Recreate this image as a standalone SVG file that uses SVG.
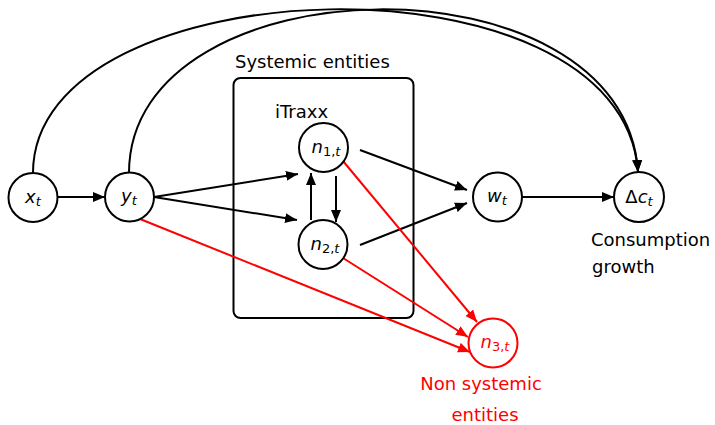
<svg xmlns="http://www.w3.org/2000/svg" width="715" height="425" viewBox="0 0 715 425">
<style>
  .node circle { fill: #fff; stroke: #000; stroke-width: 2; }
  .red circle { stroke: #f00; }
  text { font-family: "DejaVu Sans", "Liberation Sans", sans-serif; font-size: 18px; fill: #000; }
  .math { font-style: italic; }
  .sub { font-size: 13px; }
  .redt { fill: #f00; }
  .edge { fill: none; stroke: #000; stroke-width: 2; }
  .redge { fill: none; stroke: #f00; stroke-width: 2; }
</style>
<defs>
  <marker id="ah" markerUnits="userSpaceOnUse" markerWidth="13" markerHeight="11" refX="12" refY="5.5" orient="auto">
    <path d="M0,0.5 L12,5.5 L0,10.5 z" fill="#000"/>
  </marker>
  <marker id="ahr" markerUnits="userSpaceOnUse" markerWidth="13" markerHeight="11" refX="12" refY="5.5" orient="auto">
    <path d="M0,0.5 L12,5.5 L0,10.5 z" fill="#f00"/>
  </marker>
</defs>

<g id="box">
  <rect x="233.5" y="78" width="180" height="240" rx="7" fill="none" stroke="#000" stroke-width="2"/>
  <text x="235" y="68">Systemic entities</text>
  <text x="275" y="118">iTraxx</text>
</g>

<g id="connectors">
  <path class="edge" d="M33,173 C33,-35 622,-55 638,172" marker-end="url(#ah)"/>
  <path class="edge" d="M129,173 C129,-40 624,-50 638,172" marker-end="url(#ah)"/>
  <path class="edge" d="M57,197 L105,197" marker-end="url(#ah)"/>
  <path class="edge" d="M154,197 L298,174" marker-end="url(#ah)"/>
  <path class="edge" d="M154,197 L297,220" marker-end="url(#ah)"/>
  <path class="edge" d="M311,220 L311,173" marker-end="url(#ah)"/>
  <path class="edge" d="M336,176 L336,222" marker-end="url(#ah)"/>
  <path class="edge" d="M360,150 L467,190" marker-end="url(#ah)"/>
  <path class="edge" d="M360,245 L467,203" marker-end="url(#ah)"/>
  <path class="edge" d="M522,197 L614,197" marker-end="url(#ah)"/>
  <path class="redge" d="M140,219 L470,352" marker-end="url(#ahr)"/>
  <path class="redge" d="M343,161 L477,322" marker-end="url(#ahr)"/>
  <path class="redge" d="M343,258 L468,337" marker-end="url(#ahr)"/>
</g>

<g id="x_t" class="node">
  <circle cx="33" cy="197.5" r="24.5"/>
  <text x="33" y="203" text-anchor="middle" class="math">x<tspan class="sub" dy="3">t</tspan></text>
</g>
<g id="y_t" class="node">
  <circle cx="129.5" cy="197" r="24.5"/>
  <text x="129" y="202" text-anchor="middle" class="math">y<tspan class="sub" dy="3">t</tspan></text>
</g>
<g id="n1" class="node">
  <circle cx="323.5" cy="147.5" r="24.5"/>
  <text x="326" y="153" text-anchor="middle" class="math">n<tspan class="sub" dy="3" font-style="normal">1,</tspan><tspan class="sub">t</tspan></text>
</g>
<g id="n2" class="node">
  <circle cx="323" cy="244.5" r="24.5"/>
  <text x="325" y="250" text-anchor="middle" class="math">n<tspan class="sub" dy="3" font-style="normal">2,</tspan><tspan class="sub">t</tspan></text>
</g>
<g id="w_t" class="node">
  <circle cx="497.5" cy="197" r="24.5"/>
  <text x="497" y="202" text-anchor="middle" class="math">w<tspan class="sub" dy="3">t</tspan></text>
</g>
<g id="dc_t" class="node">
  <circle cx="639" cy="197" r="25"/>
  <text x="639" y="203" text-anchor="middle"><tspan>Δ</tspan><tspan class="math">c</tspan><tspan class="sub math" dy="3">t</tspan></text>
  <text x="591" y="246">Consumption</text>
  <text x="592" y="273">growth</text>
</g>
<g id="n3" class="node red">
  <circle cx="493" cy="343" r="24.5"/>
  <text x="495" y="348" text-anchor="middle" class="math redt">n<tspan class="sub" dy="3" font-style="normal">3,</tspan><tspan class="sub">t</tspan></text>
  <text x="481" y="390" text-anchor="middle" class="redt">Non systemic</text>
  <text x="485" y="421" text-anchor="middle" class="redt">entities</text>
</g>
</svg>
